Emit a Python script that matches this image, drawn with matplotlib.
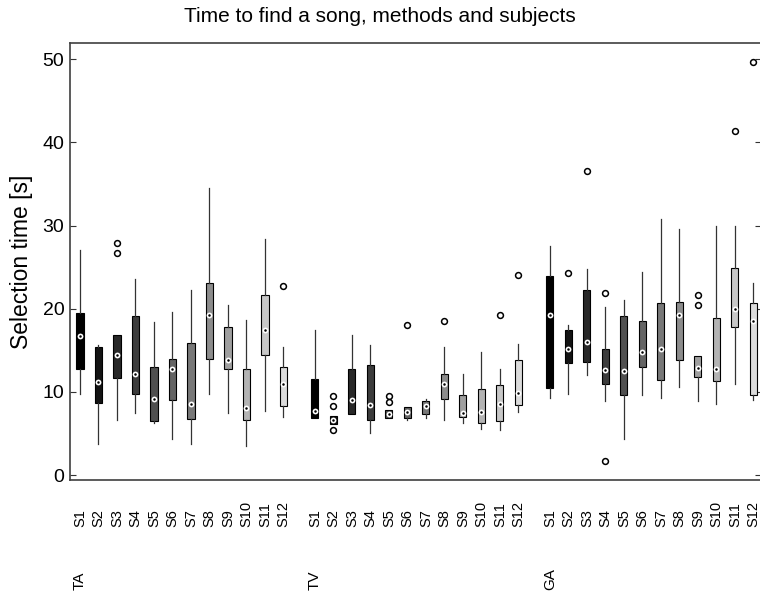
import numpy as np
import matplotlib
matplotlib.use("Agg")
import matplotlib.pyplot as plt
from matplotlib import transforms

plt.rcParams['font.family'] = ['Liberation Sans', 'DejaVu Sans']

# --- data ---
groups = ["TA", "TV", "GA"]
subjects = ["S%d" % i for i in range(1, 13)]

ta_whishi = [27.1, 15.6, 16.8, 23.6, 18.4, 19.6, 22.2, 34.5, 20.5, 18.6, 28.4, 15.4]
ta_q3     = [19.5, 15.4, 16.8, 19.1, 13.0, 14.0, 15.9, 23.1, 17.8, 12.8, 21.6, 13.0]
ta_med    = [16.7, 11.2, 14.4, 12.2, 9.2, 12.7, 8.6, 19.3, 13.8, 8.1, 17.4, 10.9]
ta_q1     = [12.8, 8.7, 11.7, 9.7, 6.5, 9.0, 6.7, 14.0, 12.8, 6.6, 14.4, 8.3]
ta_whislo = [9.7, 3.7, 6.6, 7.4, 6.2, 4.3, 3.7, 9.8, 7.5, 3.5, 7.7, 7.0]
ta_fliers = [[], [], [27.9, 26.7], [], [], [], [], [], [], [], [], [22.7]]

tv_whishi = [17.5, 7.1, 16.9, 15.6, 7.8, 8.2, 9.2, 15.4, 12.2, 14.8, 12.7, 15.7]
tv_q3     = [11.5, 7.1, 12.8, 13.2, 7.8, 8.2, 8.9, 12.2, 9.6, 10.3, 10.8, 13.8]
tv_med    = [7.7, 6.6, 9.0, 8.4, 7.3, 7.6, 8.3, 11.0, 7.5, 7.6, 8.6, 9.9]
tv_q1     = [6.9, 6.1, 7.3, 6.6, 6.8, 6.8, 7.3, 9.1, 7.0, 6.2, 6.5, 8.4]
tv_whislo = [6.9, 6.1, 7.3, 5.1, 6.8, 6.6, 6.9, 6.6, 6.2, 5.5, 5.4, 7.6]
tv_fliers = [[], [9.5, 8.3, 5.4], [], [], [9.5, 8.8], [18.0], [], [18.5], [], [], [19.2], [24.0]]

ga_whishi = [27.6, 18.0, 24.8, 20.2, 21.1, 24.4, 30.8, 29.6, 14.3, 30.0, 30.0, 23.1]
ga_q3     = [23.9, 17.4, 22.3, 15.2, 19.1, 18.5, 20.7, 20.8, 14.3, 18.9, 24.9, 20.7]
ga_med    = [19.3, 15.1, 16.0, 12.6, 12.5, 14.8, 15.1, 19.3, 12.9, 12.8, 20.0, 18.5]
ga_q1     = [10.5, 13.5, 13.6, 10.9, 9.6, 13.0, 11.4, 13.8, 11.8, 11.3, 17.8, 9.6]
ga_whislo = [9.3, 9.8, 12.0, 8.9, 4.3, 9.6, 9.3, 10.6, 8.9, 8.6, 11.0, 9.0]
ga_fliers = [[], [24.3], [36.6], [21.9, 1.7], [], [], [], [], [21.7, 20.5], [], [41.4], [49.7]]

group_data = [
    (ta_whislo, ta_q1, ta_med, ta_q3, ta_whishi, ta_fliers),
    (tv_whislo, tv_q1, tv_med, tv_q3, tv_whishi, tv_fliers),
    (ga_whislo, ga_q1, ga_med, ga_q3, ga_whishi, ga_fliers),
]

# --- layout ---
gap = 1.7
shades = np.linspace(0.0, 0.86, 12)

fig = plt.figure(figsize=(7.6, 5.93), dpi=100)
ax = fig.add_axes([70 / 760, 113 / 593, 691 / 760, 437.3 / 593])
trans = transforms.blended_transform_factory(ax.transData, ax.transAxes)

for g, (wlo, q1, med, q3, whi, fl) in enumerate(group_data):
    pos = [g * (11 + gap) + i for i in range(12)]
    stats = []
    for i in range(12):
        stats.append(dict(whislo=wlo[i], q1=q1[i], med=med[i], q3=q3[i],
                          whishi=whi[i], fliers=fl[i]))
    bp = ax.bxp(stats, positions=pos, widths=0.38, patch_artist=True,
                showcaps=False, manage_ticks=False,
                boxprops=dict(edgecolor="black", linewidth=0.8),
                whiskerprops=dict(color="#333333", linewidth=0.9),
                medianprops=dict(linewidth=0),
                flierprops=dict(marker="o", markersize=4.2, markerfacecolor="white",
                                markeredgecolor="black", markeredgewidth=1.1))
    for b, s in zip(bp["boxes"], shades):
        b.set_facecolor((s, s, s))
        b.set_zorder(2)
    ax.plot(pos, med, "o", color="white", markersize=4.2, markeredgewidth=0, zorder=3)
    ax.plot(pos, med, "o", color="black", markersize=1.8, markeredgewidth=0, zorder=4)

    # subject and group labels under the axis
    for p, s in zip(pos, subjects):
        ax.text(p, -0.1075, s, rotation=90, ha="center", va="bottom",
                fontsize=10.5, transform=trans)
    ax.text(pos[0], -0.2515, groups[g], rotation=90, ha="center", va="bottom",
            fontsize=11, transform=trans)

ax.set_xlim(-0.54, 36.81)
ax.set_ylim(-0.6, 52.0)
ax.set_xticks([])
ax.set_yticks([0, 10, 20, 30, 40, 50])
ax.tick_params(axis="y", direction="in", length=4, labelsize=14, right=True,
               color="#333333", pad=4)
for sp in ax.spines.values():
    sp.set_color("#404040")
    sp.set_linewidth(1.2)

ax.set_ylabel("Selection time [s]", fontsize=16.5, labelpad=7)
fig.text(0.5, 1 - 17 / 593, "Time to find a song, methods and subjects",
         fontsize=15, ha="center", va="center")

fig.savefig("out.png", dpi=100)
